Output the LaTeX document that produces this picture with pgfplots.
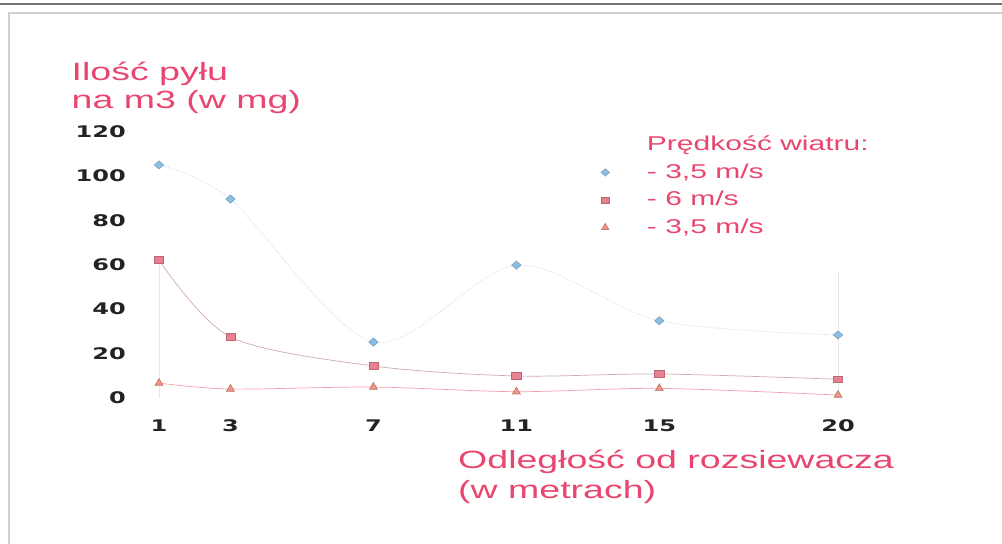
\documentclass[border=0pt]{standalone}
\usepackage{fontspec}
\setmainfont{Liberation Sans}[FakeStretch=1.5]
\newfontfamily\tickfont{DejaVu Sans}[FakeStretch=1.5]
\usepackage{pgfplots}
\pgfplotsset{compat=1.18}

\definecolor{pinktext}{RGB}{232,70,110}
\definecolor{tickgray}{RGB}{35,35,35}
\definecolor{bluemark}{RGB}{140,190,225}
\definecolor{blueline}{RGB}{190,210,230}
\definecolor{redmark}{RGB}{232,128,145}
\definecolor{redline}{RGB}{210,170,170}
\definecolor{trimark}{RGB}{240,150,135}
\definecolor{triline}{RGB}{242,160,172}

\begin{document}
\begin{tikzpicture}[x=1bp,y=1bp]
\useasboundingbox (0,0) rectangle (1002,544);
% page frame from the scan
\draw[black!55, line width=2bp] (0,540) -- (1002,540);
\draw[black!18, line width=1.5bp] (9,0) -- (9,531) -- (1002,531);

\begin{axis}[
    at={(159bp,146.3bp)}, anchor=south west,
    scale only axis,
    width  = 679bp,
    height = 266bp,
    xmin = 1, xmax = 20,
    ymin = 0, ymax = 120,
    xtick = {1,3,7,11,15,20},
    ytick = {0,20,...,120},
    axis line style = {draw=none},
    major tick style = {draw=none},
    clip = false,
    /pgf/number format/assume math mode=true,
    tick label style = {font=\tickfont\bfseries\fontsize{16bp}{19bp}\selectfont,
                        text=tickgray, inner sep=0pt},
    yticklabel style = {anchor=east, xshift=-33bp},
    xticklabel style = {anchor=north, yshift=-22bp},
    every axis x label/.style = {at={(axis description cs:0.4404,-0.1966)},
        anchor=north west, align=left, inner sep=0pt, text=pinktext,
        font=\fontsize{25bp}{30bp}\selectfont},
    every axis y label/.style = {at={(axis description cs:-0.1288,1.262)},
        anchor=north west, align=left, inner sep=0pt, text=pinktext,
        font=\fontsize{25bp}{28bp}\selectfont},
    xlabel = {Odległość od rozsiewacza\\(w metrach)},
    ylabel = {Ilość pyłu\\na m3 (w mg)},
    legend style = {at={(0.651,0.984)}, anchor=north west,
        draw=none, fill=none, inner sep=0pt, outer sep=0pt,
        font=\fontsize{20bp}{24bp}\selectfont, text=pinktext,
        row sep=7.5bp,
        nodes={inner sep=0pt, text height=15bp, text depth=5bp},
        /tikz/every odd column/.append style={column sep=37.5bp}},
    legend cell align = left,
    legend image code/.code = {\draw[#1, every mark/.append style={scale=0.9}]
        plot coordinates {(0bp,1bp)};},
    smooth,
]

\addlegendimage{empty legend}
\addlegendentry{Prędkość wiatru:}

% faint drop lines at both ends
\addplot[draw=black!14, line width=0.6bp, forget plot] coordinates {(1,0) (1,62)};
\addplot[draw=blueline!60!black!20, line width=0.6bp, forget plot] coordinates {(20,0) (20,57)};

\addplot[
    color = blueline,
    densely dotted,
    line width = 0.6bp,
    mark = diamond*,
    mark size = 4.8bp,
    mark options = {solid, fill=bluemark, draw=bluemark!85!black, xscale=1.3, yscale=0.85},
] coordinates {(1,105) (3,89.6) (7,25.1) (11,59.8) (15,34.7) (20,28.3)};
\addlegendentry{- 3,5 m/s}

\addplot[
    color = redline,
    line width = 0.7bp,
    mark = square*,
    mark size = 3.8bp,
    mark options = {fill=redmark, draw=redmark!80!black, xscale=1.2, yscale=0.9},
] coordinates {(1,62.1) (3,27.4) (7,14.3) (11,9.8) (15,10.7) (20,8.3)};
\addlegendentry{- 6 m/s}

\addplot[
    color = triline,
    line width = 0.7bp,
    mark = triangle*,
    mark size = 4.5bp,
    mark options = {fill=trimark, draw=trimark!80!black},
] coordinates {(1,6.6) (3,3.9) (7,4.8) (11,2.7) (15,4.2) (20,1.2)};
\addlegendentry{- 3,5 m/s}

\end{axis}
\end{tikzpicture}
\end{document}
